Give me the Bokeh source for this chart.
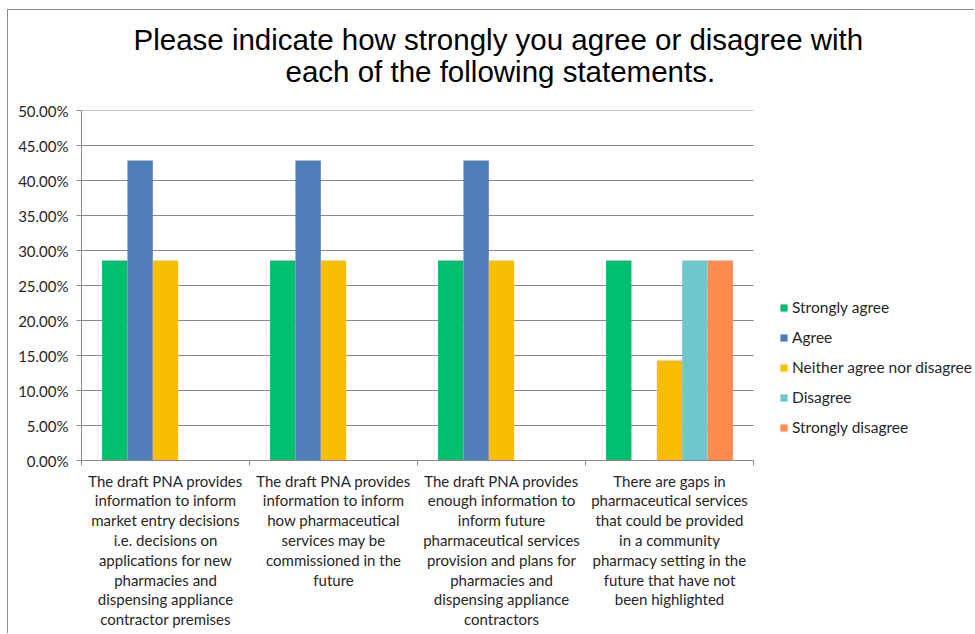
import numpy as np
from bokeh.plotting import figure
from bokeh.models import (ColumnDataSource, Range1d, FixedTicker, NumeralTickFormatter,
                          Legend, LegendItem, Title)
from bokeh.transform import dodge
from bokeh.embed import file_html
from bokeh.resources import INLINE

title_lines = ["Please indicate how strongly you agree or disagree with",
               "each of the following statements."]

statements = [
    "The draft PNA provides information to inform market entry decisions i.e. decisions on applications for new pharmacies and dispensing appliance contractor premises",
    "The draft PNA provides information to inform how pharmaceutical services may be commissioned in the future",
    "The draft PNA provides enough information to inform future pharmaceutical services provision and plans for pharmacies and dispensing appliance contractors",
    "There are gaps in pharmaceutical services that could be provided in a community pharmacy setting in the future that have not been highlighted",
]
tick_labels = [
    "The draft PNA provides\ninformation to inform\nmarket entry decisions\ni.e. decisions on\napplications for new\npharmacies and\ndispensing appliance\ncontractor premises",
    "The draft PNA provides\ninformation to inform\nhow pharmaceutical\nservices may be\ncommissioned in the\nfuture",
    "The draft PNA provides\nenough information to\ninform future\npharmaceutical services\nprovision and plans for\npharmacies and\ndispensing appliance\ncontractors",
    "There are gaps in\npharmaceutical services\nthat could be provided\nin a community\npharmacy setting in the\nfuture that have not\nbeen highlighted",
]

series_names = ["Strongly agree", "Agree", "Neither agree nor disagree", "Disagree", "Strongly disagree"]
strongly_agree = [0.2857, 0.2857, 0.2857, 0.2857]
agree = [0.4286, 0.4286, 0.4286, 0.0]
neither = [0.2857, 0.2857, 0.2857, 0.1429]
disagree = [0.0, 0.0, 0.0, 0.2857]
strongly_disagree = [0.0, 0.0, 0.0, 0.2857]
colors = ["#00BF6F", "#4F7DB8", "#F8BE00", "#6CC8CC", "#FF8B50"]

y_ticks = [0.0, 0.05, 0.10, 0.15, 0.20, 0.25, 0.30, 0.35, 0.40, 0.45, 0.50]

n = len(statements)
x_center = list(np.arange(n) + 0.5)
source = ColumnDataSource(dict(
    x=x_center, statement=statements,
    s0=strongly_agree, s1=agree, s2=neither, s3=disagree, s4=strongly_disagree,
))

# layout (pixels)
W, H = 967, 624
LEFT, TOP, BOTTOM = 73, 100, 174
CAT_PX = 168            # width of one category slot
frame_w = W - LEFT      # the plot frame runs to the right edge (legend sits inside it)
x_end = frame_w / CAT_PX

p = figure(width=W, height=H, output_backend="svg", toolbar_location=None,
           x_range=Range1d(0, x_end), y_range=Range1d(0, 0.5),
           min_border_left=LEFT, min_border_right=0, min_border_top=TOP,
           min_border_bottom=BOTTOM)
p.styles = {"margin-left": "7px", "margin-top": "9px",
            "border-left": "1px solid #8c8c8c", "border-top": "1px solid #8c8c8c"}

p.title.visible = False

# blank spacer between the plot frame and the title lines
spacer = Title(text=" ", standoff=5, text_font="Liberation Sans", text_font_size="14px")
p.add_layout(spacer, "above")

t2 = Title(text=title_lines[1], align="left", offset=204, standoff=0,
           text_font="Liberation Sans", text_font_size="29.5px",
           text_font_style="normal", text_color="#000000")
t1 = Title(text=title_lines[0], align="left", offset=52, standoff=-6,
           text_font="Liberation Sans", text_font_size="29.5px",
           text_font_style="normal", text_color="#000000")
p.add_layout(t2, "above")
p.add_layout(t1, "above")

p.outline_line_color = None
p.background_fill_color = "white"
p.border_fill_color = "white"

# horizontal gridlines, limited to the category area
p.xgrid.visible = False
p.ygrid.visible = False
p.segment(x0=0, x1=n, y0=y_ticks, y1=y_ticks, line_color="#8a8a8a", line_width=1)

bw = 0.151
items = []
for i, (name, col) in enumerate(zip(series_names, colors)):
    r = p.vbar(x=dodge("x", (i - 2) * bw, range=p.x_range), top="s%d" % i, width=bw,
               source=source, fill_color=col, line_color=None)
    items.append(LegendItem(label=name, renderers=[r]))

# y axis
p.yaxis.ticker = FixedTicker(ticks=y_ticks)
p.yaxis.formatter = NumeralTickFormatter(format="0.00%")
p.yaxis.major_label_text_font = "Lato"
p.yaxis.major_label_text_font_size = "15px"
p.yaxis.major_label_text_color = "#262626"
p.yaxis.axis_line_color = "#8a8a8a"
p.yaxis.major_tick_line_color = "#8a8a8a"
p.yaxis.major_tick_out = 5
p.yaxis.major_tick_in = 0
p.yaxis.minor_tick_line_color = None
p.yaxis.major_label_standoff = 8

# x axis
xax = p.below[0]
xax.bounds = (0, n)
xax.ticker = FixedTicker(ticks=x_center, minor_ticks=list(range(n + 1)))
xax.major_label_overrides = {x: lab for x, lab in zip(x_center, tick_labels)}
xax.major_label_text_font = "Lato"
xax.major_label_text_font_size = "15px"
xax.major_label_text_color = "#262626"
xax.major_label_text_line_height = 1.1
xax.major_label_text_align = "center"
xax.major_label_standoff = 6
xax.axis_line_color = "#8a8a8a"
xax.major_tick_line_color = None
xax.major_tick_out = 0
xax.major_tick_in = 0
xax.minor_tick_line_color = "#8a8a8a"
xax.minor_tick_out = 5
xax.minor_tick_in = 0

legend = Legend(items=items, location=(698, 23), orientation="vertical",
                label_text_font="Lato", label_text_font_size="15.5px",
                label_text_color="#262626",
                glyph_width=9, glyph_height=9, label_height=20, spacing=10,
                padding=0, margin=0, label_standoff=4,
                border_line_color=None, background_fill_alpha=0)
p.add_layout(legend, "center")

open("out.html", "w").write(file_html(p, INLINE))
